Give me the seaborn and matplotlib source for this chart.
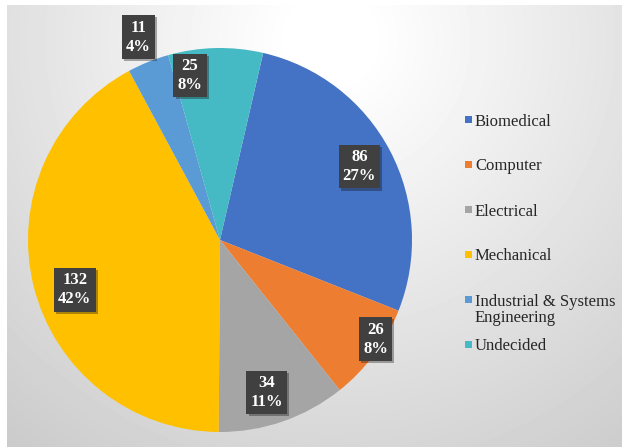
import numpy as np
import matplotlib
matplotlib.use('Agg')
import matplotlib.pyplot as plt
import matplotlib.patheffects as pe
from matplotlib.patches import Rectangle
import seaborn as sns

# data
majors = ['Biomedical', 'Computer', 'Electrical', 'Mechanical',
          'Industrial & Systems\nEngineering', 'Undecided']
counts = [86, 26, 34, 132, 11, 25]
colors = ['#4472C4', '#ED7D31', '#A5A5A5', '#FFC000', '#5B9BD5', '#45B9C4']

# label placement (fraction of radius, angular nudge in degrees)
label_dist = [0.82, 0.96, 0.83, 0.80, 1.14, 0.87]
label_nudge = [0, 4, -2, 5, 0, 9]

W, H = 622, 447
sns.set_theme(style='white')
plt.rcParams['font.family'] = ['Liberation Serif', 'DejaVu Serif']

fig = plt.figure(figsize=(W / 100, H / 100), dpi=100)
fig.patch.set_facecolor('white')

# background panel, light radial gradient
bg = fig.add_axes([0, 0, 1, 1])
left, top = 7, 5
yy, xx = np.mgrid[top:H, left:W]
d = np.hypot(xx - 330, yy - 40)
shade = np.clip(255 - 0.11 * np.clip(d - 40, 0, None), 0, 255) / 255
bg.imshow(shade, cmap='gray', vmin=0, vmax=1, extent=(left, W, H, top),
          aspect='auto', interpolation='bilinear', zorder=0)
bg.set_xlim(0, W)
bg.set_ylim(H, 0)
bg.axis('off')

# pie
cx, cy, R = 220, 240, 192
ax = fig.add_axes([(cx - R) / W, (H - cy - R) / H, 2 * R / W, 2 * R / H])
first_slice = 13  # degrees clockwise from 12 o'clock
wedges, _ = ax.pie(counts, colors=colors, startangle=90 - first_slice,
                   counterclock=False, radius=1,
                   wedgeprops=dict(linewidth=0))
ax.set_xlim(-1, 1)
ax.set_ylim(-1, 1)
ax.axis('off')

total = sum(counts)
for w, c, r, nudge in zip(wedges, counts, label_dist, label_nudge):
    ang = np.deg2rad((w.theta1 + w.theta2) / 2 + nudge)
    t = ax.text(r * np.cos(ang), r * np.sin(ang), f'{c}\n{c / total:.0%}',
                ha='center', va='center', color='white', fontweight='bold',
                fontsize=12, linespacing=1.25,
                bbox=dict(boxstyle='square,pad=0.25', fc='#404040', ec='none'))
    t.get_bbox_patch().set_path_effects(
        [pe.SimplePatchShadow(offset=(1.5, -1.5), alpha=0.35), pe.Normal()])

# legend drawn on the background panel
for i, (lab, col) in enumerate(zip(majors, colors)):
    y = 119 + 45 * i
    bg.add_patch(Rectangle((465, y - 3.5), 7, 7, fc=col, ec='none'))
    bg.text(475, y - 5.5, lab, va='top', ha='left', fontsize=12,
            color='#262626', linespacing=1.0)

fig.savefig('out.png', dpi=100)
